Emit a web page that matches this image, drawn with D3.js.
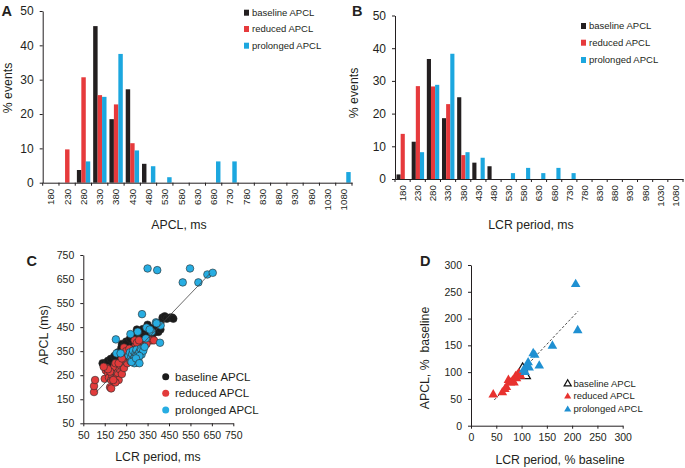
<!DOCTYPE html>
<html><head><meta charset="utf-8">
<script src="https://cdn.jsdelivr.net/npm/d3@7"></script>
<style>
body{margin:0;background:#fff}
text{font-family:"Liberation Sans",Arial,Helvetica,sans-serif;fill:#231f20}
.domain,.tick line{stroke:#231f20;stroke-width:1}
</style>
</head><body><svg id="c" width="685" height="468"></svg>
<script>
// ---------- DATA ----------
const bins = [180,230,280,330,380,430,480,530,580,630,680,730,780,830,880,930,980,1030,1080];
const series = ["baseline APCL","reduced APCL","prolonged APCL"];
const histYTicks = [0,10,20,30,40,50];

// Panel A: % events by APCL bin
const A_baseline  = [0,0,3.7,45.6,18.5,27.2,5.5,0,0,0,0,0,0,0,0,0,0,0,0];
const A_reduced   = [0,9.7,30.7,25.5,22.8,11.5,0,0,0,0,0,0,0,0,0,0,0,0,0];
const A_prolonged = [0,0,6.2,25.0,37.5,9.4,4.8,1.6,0,0,6.2,6.2,0,0,0,0,0,0,3.1];

// Panel B: % events by LCR period bin
const B_baseline  = [1.4,11.4,36.7,18.6,25.0,5.0,3.9,0,0,0,0,0,0,0,0,0,0,0,0];
const B_reduced   = [13.8,28.4,28.3,22.9,7.3,0,0,0,0,0,0,0,0,0,0,0,0,0,0];
const B_prolonged = [0,8.2,28.8,38.3,8.2,6.5,0,1.8,3.4,1.8,3.4,1.8,0,0,0,0,0,0,0];

// Panel C: [LCR period, APCL] in ms
const C_baseline = [[140,300],[150,300],[160,300],[155,290],[170,295],[180,305],[190,310],[200,320],[210,330],[220,340],[230,350],[240,360],[250,370],[255,380],[265,385],[270,390],[280,395],[285,400],[295,405],[300,420],[310,410],[320,415],[330,420],[340,425],[350,430],[360,440],[370,445],[380,440],[390,450],[400,460],[410,470],[420,490],[430,495],[440,485],[455,490],[465,490],[470,485],[300,440],[350,460],[320,400],[335,395],[345,410],[360,420],[375,425],[385,430],[395,435],[405,445],[260,360],[245,350],[235,340],[225,330],[215,320],[205,305],[195,290],[185,280],[270,330],[280,340],[290,350],[300,360],[310,370],[320,380],[330,385],[340,390],[350,395],[360,400],[370,410],[250,390],[230,380],[400,430],[410,440],[165,310],[178,318],[195,330],[212,345],[228,365],[248,382],[268,402],[288,418],[308,432],[328,442],[280,412]];
const C_reduced = [[100,180],[100,205],[105,230],[150,235],[155,270],[160,280],[165,260],[170,240],[175,200],[180,195],[180,230],[185,250],[190,270],[195,285],[200,300],[205,240],[210,260],[215,230],[220,275],[225,290],[230,255],[235,300],[240,280],[245,310],[250,320],[255,300],[260,330],[265,340],[270,310],[275,350],[280,330],[285,360],[290,345],[295,375],[300,360],[310,380],[320,370],[330,385],[340,395],[350,400],[360,395],[370,395],[380,395],[240,365],[290,395],[200,220],[190,230],[175,265],[165,275],[215,300],[230,320],[250,350],[265,360],[300,385],[310,395],[345,380],[145,285]];
const C_prolonged = [[350,694],[395,687],[548,694],[514,636],[587,636],[629,669],[654,676],[324,504],[389,470],[411,457],[345,448],[304,431],[270,421],[202,399],[369,431],[205,341],[224,341],[408,385],[392,466],[342,403],[262,332],[268,345],[272,320],[278,338],[282,352],[286,312],[290,326],[294,342],[298,356],[302,330],[306,316],[312,346],[318,360],[322,336],[300,302],[288,300],[275,305],[330,352],[312,330],[296,320],[336,368],[312,300],[360,440]];
const C_fit = {x: [112, 641], slope: 0.93, intercept: 77};

// Panel D: [LCR period %, APCL %] of baseline
const D_baseline = [[102,107],[108,93]];
const D_reduced = [[44,58],[62,62],[67,68],[70,72],[74,85],[78,80],[82,84],[85,80],[88,92],[92,95],[95,98],[90,88],[98,93]];
const D_prolonged = [[207,264],[211,178],[161,149],[123,135],[126,132],[135,112],[113,118],[110,110],[115,108],[104,104],[107,100]];
const D_fit = {x: [46, 212], slope: 1.0, intercept: 2};

// ---------- DRAWING ----------
const histColors = ["#231f20","#e63a3c","#1ca7df"];
const svg = d3.select("#c");

function histogram(cfg){
  const g = svg.append("g");
  const x = d3.scaleBand().domain(bins).range([cfg.x0, cfg.x1]);
  const y = d3.scaleLinear().domain([0,50]).range([cfg.y0, cfg.y1]);
  const bw = x.bandwidth();
  const xi = d3.scaleBand().domain(series).range([bw*0.1, bw*0.92]);
  cfg.data.forEach((vals, si) => {
    g.append("g").selectAll("rect")
      .data(bins.map((b,i)=>({b, v: vals[i]})).filter(d=>d.v>0))
      .join("rect")
      .attr("x", d=>x(d.b)+xi(series[si]))
      .attr("width", xi.bandwidth())
      .attr("y", d=>y(d.v))
      .attr("height", d=>y(0)-y(d.v))
      .attr("fill", histColors[si]);
  });
  const ya = g.append("g").attr("transform",`translate(${cfg.x0},0)`)
    .call(d3.axisLeft(y).tickValues(histYTicks).tickSize(3).tickSizeOuter(0).tickPadding(6));
  ya.selectAll("text").style("font-size","12px");
  const xa = g.append("g").attr("transform",`translate(0,${cfg.y0})`)
    .call(d3.axisBottom(x).tickSize(0).tickSizeOuter(0).tickPadding(0));
  xa.selectAll("text").attr("transform","rotate(-90)").attr("x",-6).attr("y",0)
    .attr("dy","0.35em").style("text-anchor","end").style("font-size","9.8px");
  const edges = bins.map(b=>x(b)).concat([x.range()[1]]);
  g.append("g").selectAll("line").data(edges).join("line")
    .attr("x1",d=>d).attr("x2",d=>d).attr("y1",cfg.y0).attr("y2",cfg.y0+3)
    .attr("stroke","#231f20");
  g.append("text").attr("transform",`translate(${cfg.ytx},${cfg.yty}) rotate(-90)`)
    .attr("dy","0.35em").style("text-anchor","middle").style("font-size","12.3px").text("% events");
  g.append("text").attr("x",cfg.xtx).attr("y",cfg.xty).attr("dy","0.35em")
    .style("text-anchor","middle").style("font-size","12.3px").text(cfg.xtitle);
  const lg = g.append("g");
  series.forEach((s,i)=>{
    const ry = cfg.legY[i];
    lg.append("rect").attr("x",cfg.legX).attr("y",ry-3).attr("width",5).attr("height",6).attr("fill",histColors[i]);
    lg.append("text").attr("x",cfg.legX+8).attr("y",ry).attr("dy","0.35em").style("font-size","9.5px").text(s);
  });
  g.append("text").attr("x",cfg.lx).attr("y",cfg.ly).style("font-size","14.5px").style("font-weight","bold").text(cfg.label);
}

histogram({x0:42.7, x1:352, y0:182.7, y1:11, data:[A_baseline,A_reduced,A_prolonged],
  ytx:7.5, yty:88, xtx:179, xty:225, xtitle:"APCL, ms", legX:244, legY:[12.7,29,45.7], lx:1.5, ly:15.5, label:"A"});
histogram({x0:395, x1:683, y0:179, y1:15.5, data:[B_baseline,B_reduced,B_prolonged],
  ytx:354, yty:93, xtx:531, xty:225, xtitle:"LCR period, ms", legX:581, legY:[26,42.7,60], lx:352, ly:15.5, label:"B"});

// Panel C
(function(){
  const g = svg.append("g");
  const x = d3.scaleLinear().domain([50,750]).range([83.3,233.3]);
  const y = d3.scaleLinear().domain([50,750]).range([423.3,255]);
  const ticks = d3.range(50,751,100);
  const ya = g.append("g").attr("transform","translate(83.3,0)")
    .call(d3.axisLeft(y).tickValues(ticks).tickSize(3).tickSizeOuter(0).tickPadding(6));
  ya.selectAll("text").style("font-size","10.5px");
  const xa = g.append("g").attr("transform","translate(0,423.3)")
    .call(d3.axisBottom(x).tickValues(ticks).tickSize(3).tickSizeOuter(0).tickPadding(5));
  xa.selectAll("text").style("font-size","10.5px");
  const sets = [[C_baseline,"#1b1b1b"],[C_reduced,"#e23b3b"],[C_prolonged,"#27ade2"]];
  sets.forEach(([pts,col])=>{
    g.append("g").selectAll("circle").data(pts).join("circle")
      .attr("cx",d=>x(d[0])).attr("cy",d=>y(d[1])).attr("r",3.8)
      .attr("fill",col).attr("stroke","#2a2a2a").attr("stroke-width",0.6);
  });
  g.append("line").attr("x1",x(C_fit.x[0])).attr("y1",y(C_fit.slope*C_fit.x[0]+C_fit.intercept))
    .attr("x2",x(C_fit.x[1])).attr("y2",y(C_fit.slope*C_fit.x[1]+C_fit.intercept))
    .attr("stroke","#444").attr("stroke-width",0.8);
  const legY=[376.7,393.3,410];
  series.forEach((s,i)=>{
    g.append("circle").attr("cx",165.7).attr("cy",legY[i]).attr("r",3.5).attr("fill",sets[i][1]);
    g.append("text").attr("x",175).attr("y",legY[i]).attr("dy","0.35em").style("font-size","11.5px").text(s);
  });
  g.append("text").attr("transform","translate(43.5,335) rotate(-90)").attr("dy","0.35em")
    .style("text-anchor","middle").style("font-size","12.3px").text("APCL (ms)");
  g.append("text").attr("x",158).attr("y",457).attr("dy","0.35em").style("text-anchor","middle")
    .style("font-size","12.3px").text("LCR period, ms");
  g.append("text").attr("x",26.5).attr("y",266).style("font-size","14.5px").style("font-weight","bold").text("C");
})();

// Panel D
(function(){
  const g = svg.append("g");
  const x = d3.scaleLinear().domain([0,300]).range([471,622.7]);
  const y = d3.scaleLinear().domain([0,300]).range([425.7,265]);
  const ticks = d3.range(0,301,50);
  const ya = g.append("g").attr("transform","translate(471,0)")
    .call(d3.axisLeft(y).tickValues(ticks).tickSize(3).tickSizeOuter(0).tickPadding(6));
  ya.selectAll("text").style("font-size","10.5px");
  const xa = g.append("g").attr("transform","translate(0,425.7)")
    .call(d3.axisBottom(x).tickValues(ticks).tickSize(3).tickSizeOuter(0).tickPadding(5));
  xa.selectAll("text").style("font-size","10.5px");
  g.append("line").attr("x1",x(D_fit.x[0])).attr("y1",y(D_fit.slope*D_fit.x[0]+D_fit.intercept))
    .attr("x2",x(D_fit.x[1])).attr("y2",y(D_fit.slope*D_fit.x[1]+D_fit.intercept))
    .attr("stroke","#333").attr("stroke-width",0.9).attr("stroke-dasharray","2.5,2");
  const tri = d3.symbol().type(d3.symbolTriangle).size(40);
  const sets = [[D_baseline,"#fff","#111"],[D_reduced,"#e8322f","none"],[D_prolonged,"#1f90d2","none"]];
  sets.forEach(([pts,fill,stroke])=>{
    g.append("g").selectAll("path").data(pts).join("path").attr("d",tri)
      .attr("transform",d=>`translate(${x(d[0])},${y(d[1])})`)
      .attr("fill",stroke==="none"?fill:"none").attr("stroke",stroke).attr("stroke-width",1.2);
  });
  const legY=[383.3,396,409];
  const tl = d3.symbol().type(d3.symbolTriangle).size(22);
  series.forEach((s,i)=>{
    g.append("path").attr("d",tl).attr("transform",`translate(567.7,${legY[i]+0.5})`)
      .attr("fill",i===0?"#fff":sets[i][1]).attr("stroke",i===0?"#111":"none").attr("stroke-width",1.2);
    g.append("text").attr("x",573.5).attr("y",legY[i]).attr("dy","0.35em").style("font-size","9.5px").text(s);
  });
  g.append("text").attr("transform","translate(425,358) rotate(-90)").attr("dy","0.35em")
    .style("text-anchor","middle").style("font-size","12.3px").style("white-space","pre").text("APCL, %  baseline");
  g.append("text").attr("x",560).attr("y",460).attr("dy","0.35em").style("text-anchor","middle")
    .style("font-size","12.3px").text("LCR period, % baseline");
  g.append("text").attr("x",420).attr("y",266).style("font-size","14.5px").style("font-weight","bold").text("D");
})();
</script>
</body></html>
